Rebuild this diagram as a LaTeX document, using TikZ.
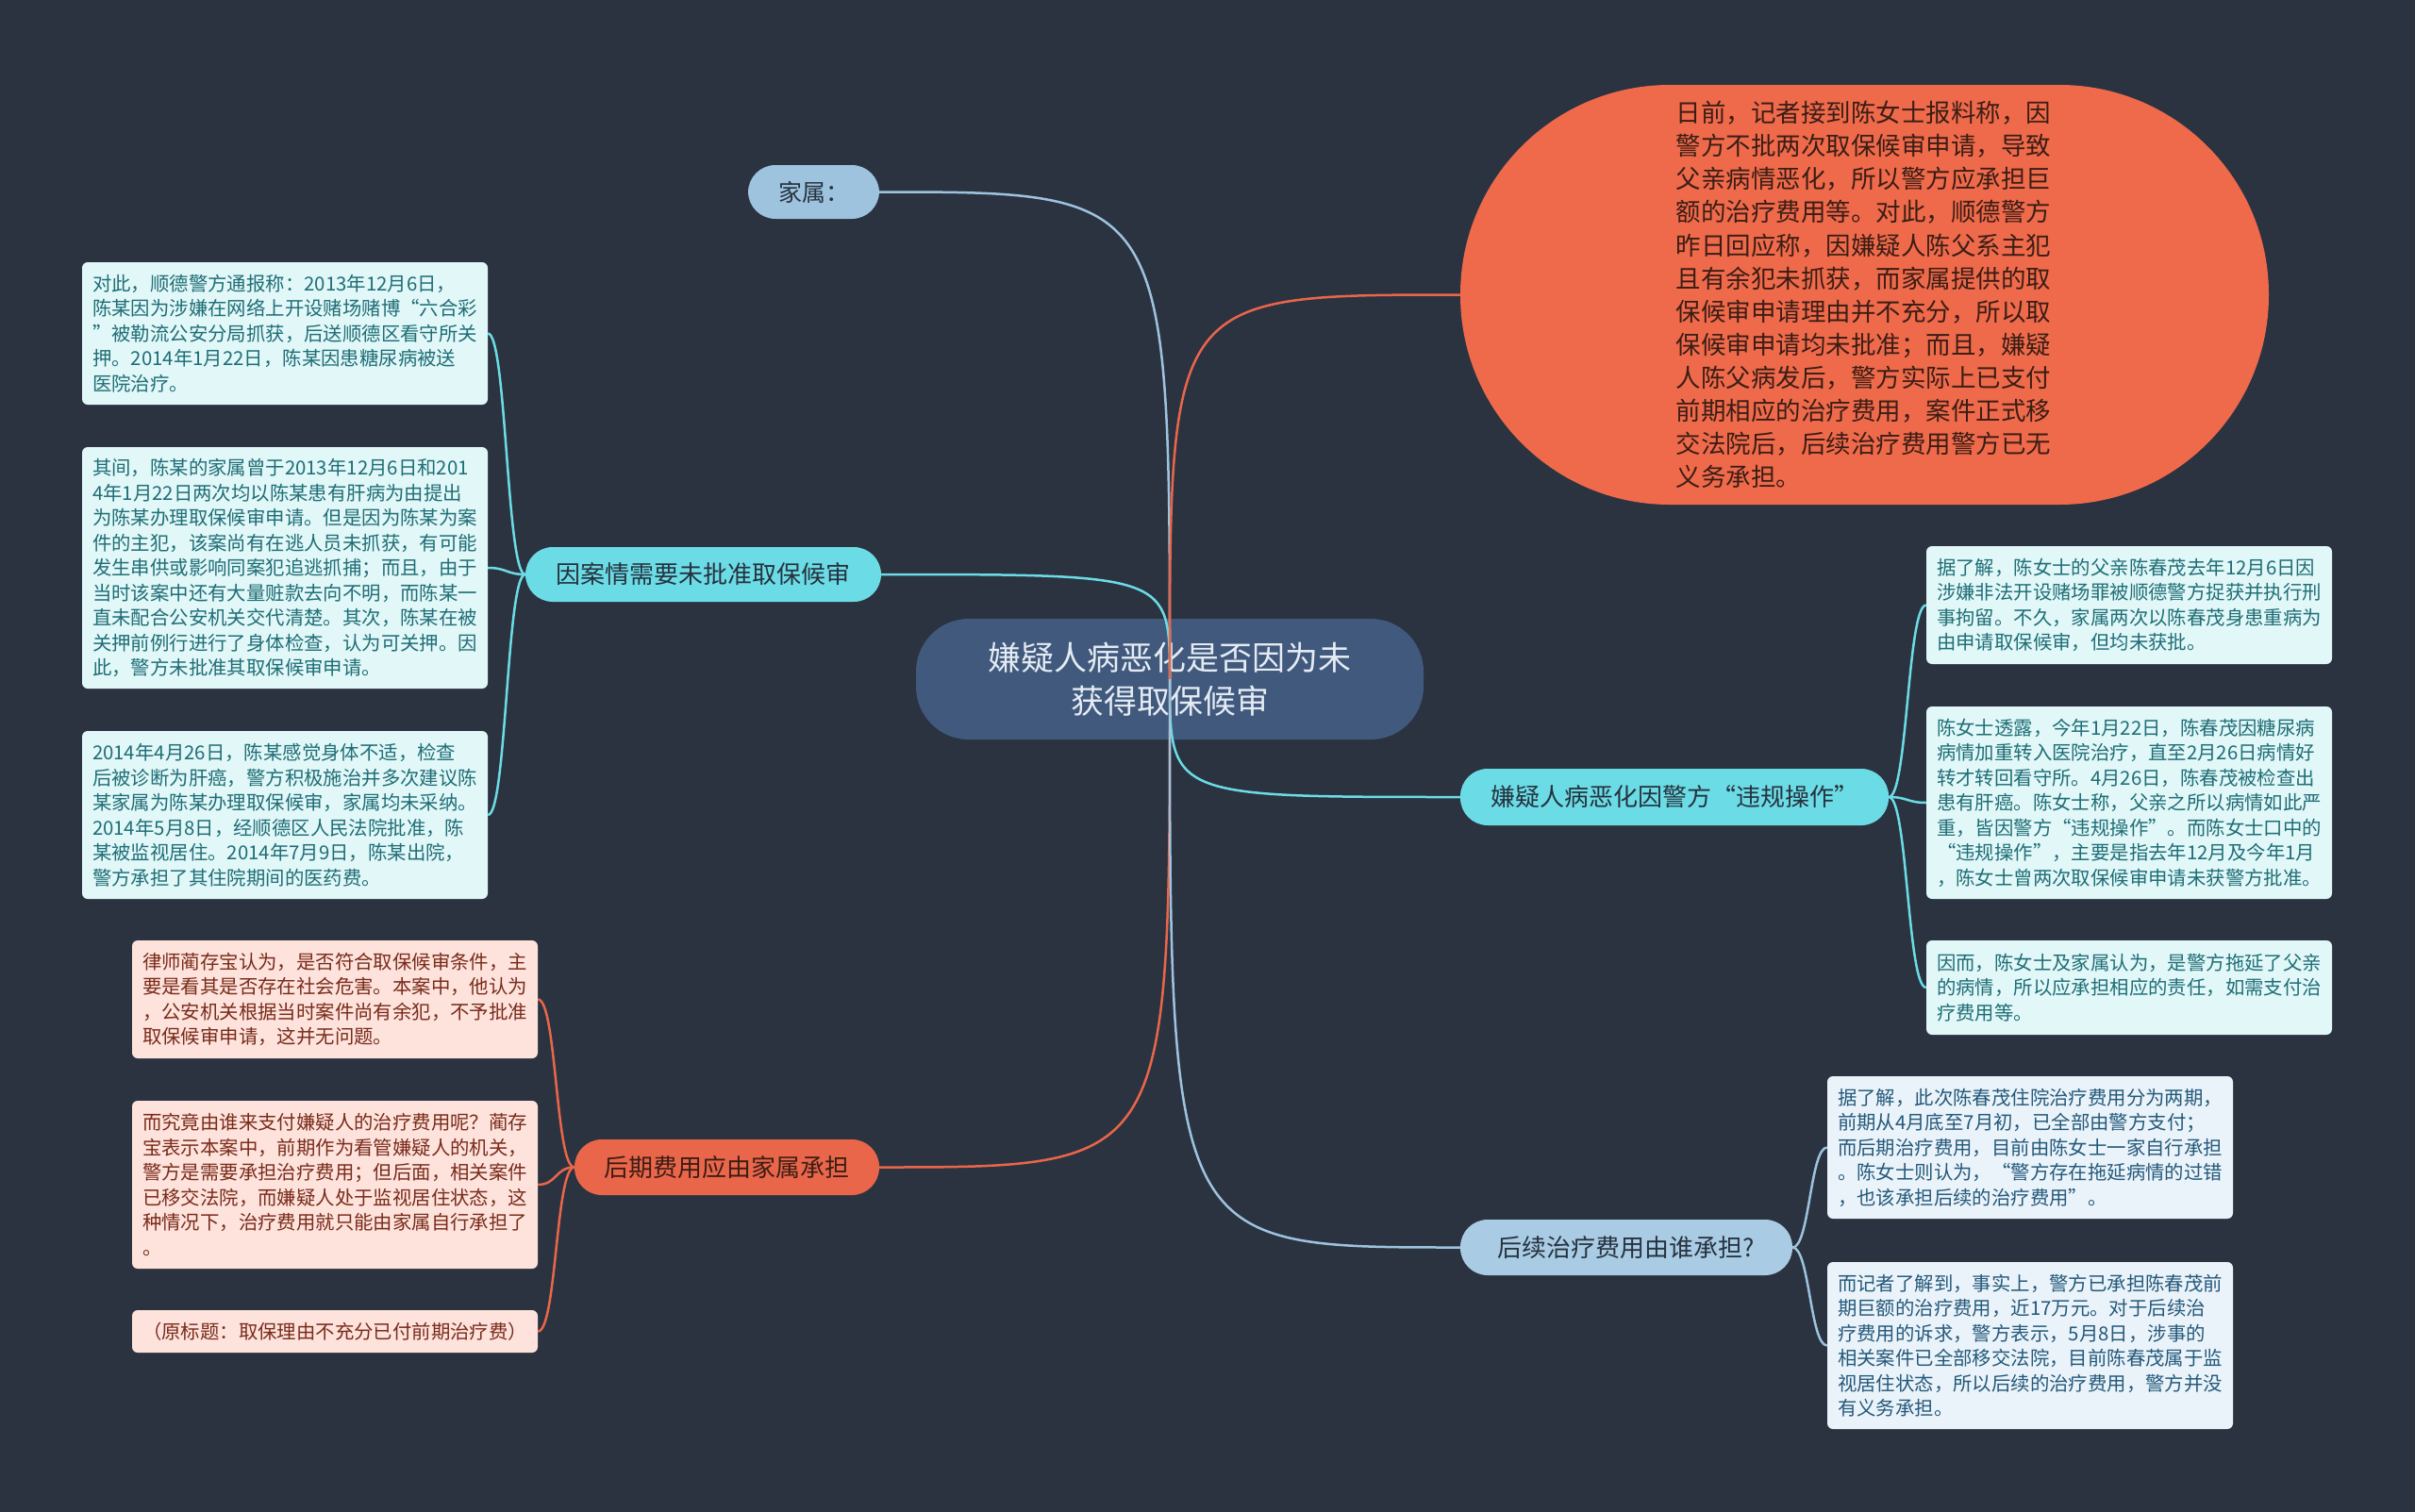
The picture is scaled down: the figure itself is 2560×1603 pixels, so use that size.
\documentclass[tikz,border=0pt]{standalone}
\usepackage{fontspec}
\setmainfont{Noto Sans CJK SC}
\usetikzlibrary{calc}
\definecolor{bgc}{HTML}{2B3340}
\definecolor{cenfill}{HTML}{40597D}
\definecolor{centext}{HTML}{E4EBF3}
\definecolor{jsfill}{HTML}{9EC3DF}
\definecolor{darktext}{HTML}{26323F}
\definecolor{cyanfill}{HTML}{6BDCE5}
\definecolor{orangefill}{HTML}{EE6A4B}
\definecolor{orangenode}{HTML}{E9664A}
\definecolor{orangetext}{HTML}{3B1D15}
\definecolor{lbfill}{HTML}{A9CBE3}
\definecolor{leafcfill}{HTML}{E1F7F8}
\definecolor{leafctext}{HTML}{1F6E76}
\definecolor{leafpfill}{HTML}{FDE3DC}
\definecolor{leafptext}{HTML}{7A2B1B}
\definecolor{leafbfill}{HTML}{EAF3F9}
\definecolor{leafbtext}{HTML}{24597B}
\begin{document}
\begin{tikzpicture}[x=1pt,y=-1pt,
  leaf/.style={rounded corners=6pt, inner xsep=11pt, inner ysep=0pt, text width=408pt, align=left, font=\fontsize{20.4}{26.5}\selectfont},
  cleaf/.style={leaf, fill=leafcfill, text=leafctext},
  pleaf/.style={leaf, fill=leafpfill, text=leafptext},
  bleaf/.style={leaf, fill=leafbfill, text=leafbtext},
  pill/.style={rounded corners=29pt, inner sep=0pt, align=center, font=\fontsize{26}{30}\selectfont},
  conn/.style={line width=2.5pt},
]
\useasboundingbox (0,0) rectangle (2560,1603);
\fill[bgc] (0,0) rectangle (2560,1603);

% central
\node[fill=cenfill, text=centext, rounded corners=56pt, minimum width=538pt, minimum height=128pt, inner sep=0pt, align=center, font=\fontsize{35}{46}\selectfont] (C) at (1240,720) {嫌疑人病恶化是否因为未\\获得取保候审};

% branches
\node[pill, fill=jsfill, text=darktext, minimum width=139pt, minimum height=57pt, font=\fontsize{25}{30}\selectfont] (J) at (862.5,203.5) {家属：};
\node[pill, fill=cyanfill, text=darktext, minimum width=377pt, minimum height=58pt] (A) at (745.5,609) {因案情需要未批准取保候审};
\node[pill, fill=orangenode, text=orangetext, minimum width=323pt, minimum height=59pt] (H) at (770.5,1237.5) {后期费用应由家属承担};
\node[pill, fill=cyanfill, text=darktext, minimum width=454pt, minimum height=60pt] (W) at (1775,845) {嫌疑人病恶化因警方“违规操作”};
\node[pill, fill=lbfill, text=darktext, minimum width=352pt, minimum height=59pt] (X) at (1724,1322.5) {后续治疗费用由谁承担?};
\node[fill=orangefill, text=orangetext, rounded corners=222pt, minimum width=857pt, minimum height=445pt, inner sep=0pt, text width=400pt, align=left, font=\fontsize{26.5}{35.1}\selectfont] (E) at (1976.5,312.5) {日前，记者接到陈女士报料称，因\\警方不批两次取保候审申请，导致\\父亲病情恶化，所以警方应承担巨\\额的治疗费用等。对此，顺德警方\\昨日回应称，因嫌疑人陈父系主犯\\且有余犯未抓获，而家属提供的取\\保候审申请理由并不充分，所以取\\保候审申请均未批准；而且，嫌疑\\人陈父病发后，警方实际上已支付\\前期相应的治疗费用，案件正式移\\交法院后，后续治疗费用警方已无\\义务承担。};

% left leaves
\node[cleaf, minimum height=151pt] (L1) at (302,353.5) {对此，顺德警方通报称：2013年12月6日，\\陈某因为涉嫌在网络上开设赌场赌博“六合彩\\”被勒流公安分局抓获，后送顺德区看守所关\\押。2014年1月22日，陈某因患糖尿病被送\\医院治疗。};
\node[cleaf, minimum height=256pt] (L2) at (302,602) {其间，陈某的家属曾于2013年12月6日和201\\4年1月22日两次均以陈某患有肝病为由提出\\为陈某办理取保候审申请。但是因为陈某为案\\件的主犯，该案尚有在逃人员未抓获，有可能\\发生串供或影响同案犯追逃抓捕；而且，由于\\当时该案中还有大量赃款去向不明，而陈某一\\直未配合公安机关交代清楚。其次，陈某在被\\关押前例行进行了身体检查，认为可关押。因\\此，警方未批准其取保候审申请。};
\node[cleaf, minimum height=178pt] (L3) at (302,864) {2014年4月26日，陈某感觉身体不适，检查\\后被诊断为肝癌，警方积极施治并多次建议陈\\某家属为陈某办理取保候审，家属均未采纳。\\2014年5月8日，经顺德区人民法院批准，陈\\某被监视居住。2014年7月9日，陈某出院，\\警方承担了其住院期间的医药费。};
\node[pleaf, minimum height=125pt] (L4) at (355,1059.5) {律师蔺存宝认为，是否符合取保候审条件，主\\要是看其是否存在社会危害。本案中，他认为\\，公安机关根据当时案件尚有余犯，不予批准\\取保候审申请，这并无问题。};
\node[pleaf, minimum height=178pt] (L5) at (355,1256) {而究竟由谁来支付嫌疑人的治疗费用呢？蔺存\\宝表示本案中，前期作为看管嫌疑人的机关，\\警方是需要承担治疗费用；但后面，相关案件\\已移交法院，而嫌疑人处于监视居住状态，这\\种情况下，治疗费用就只能由家属自行承担了\\。};
\node[pleaf, minimum height=45pt, align=center] (L6) at (355,1411.5) {（原标题：取保理由不充分已付前期治疗费）};

% right leaves
\node[cleaf, minimum height=125pt] (R1) at (2257,641.5) {据了解，陈女士的父亲陈春茂去年12月6日因\\涉嫌非法开设赌场罪被顺德警方捉获并执行刑\\事拘留。不久，家属两次以陈春茂身患重病为\\由申请取保候审，但均未获批。};
\node[cleaf, minimum height=204pt] (R2) at (2257,851) {陈女士透露，今年1月22日，陈春茂因糖尿病\\病情加重转入医院治疗，直至2月26日病情好\\转才转回看守所。4月26日，陈春茂被检查出\\患有肝癌。陈女士称，父亲之所以病情如此严\\重，皆因警方“违规操作”。而陈女士口中的\\“违规操作”，主要是指去年12月及今年1月\\，陈女士曾两次取保候审申请未获警方批准。};
\node[cleaf, minimum height=100pt] (R3) at (2257,1047) {因而，陈女士及家属认为，是警方拖延了父亲\\的病情，所以应承担相应的责任，如需支付治\\疗费用等。};
\node[bleaf, minimum height=151pt] (R4) at (2152,1216.5) {据了解，此次陈春茂住院治疗费用分为两期，\\前期从4月底至7月初，已全部由警方支付；\\而后期治疗费用，目前由陈女士一家自行承担\\。陈女士则认为，“警方存在拖延病情的过错\\，也该承担后续的治疗费用”。};
\node[bleaf, minimum height=177pt] (R5) at (2152,1426.5) {而记者了解到，事实上，警方已承担陈春茂前\\期巨额的治疗费用，近17万元。对于后续治\\疗费用的诉求，警方表示，5月8日，涉事的\\相关案件已全部移交法院，目前陈春茂属于监\\视居住状态，所以后续的治疗费用，警方并没\\有义务承担。};

% connectors from centre
\draw[conn, jsfill] (C.center) .. controls (C.center |- J.east) and (C.center |- J.east) .. (J.east);
\draw[conn, cyanfill] (C.center) .. controls (C.center |- A.east) and (C.center |- A.east) .. (A.east);
\draw[conn, orangenode] (C.center) .. controls (C.center |- H.east) and (C.center |- H.east) .. (H.east);
\draw[conn, orangenode] (C.center) .. controls (C.center |- E.west) and (C.center |- E.west) .. (E.west);
\draw[conn, cyanfill] (C.center) .. controls (C.center |- W.west) and (C.center |- W.west) .. (W.west);
\draw[conn, jsfill] (C.center) .. controls (C.center |- X.west) and (C.center |- X.west) .. (X.west);

% connectors to leaves
\foreach \l in {L1,L2,L3}
  \draw[conn, cyanfill] (A.west) .. controls ($(A.west)+(-20,0)$) and ($(\l.east)+(20,0)$) .. (\l.east);
\foreach \l in {L4,L5,L6}
  \draw[conn, orangenode] (H.west) .. controls ($(H.west)+(-20,0)$) and ($(\l.east)+(20,0)$) .. (\l.east);
\foreach \r in {R1,R2,R3}
  \draw[conn, cyanfill] (W.east) .. controls ($(W.east)+(20,0)$) and ($(\r.west)+(-20,0)$) .. (\r.west);
\foreach \r in {R4,R5}
  \draw[conn, jsfill] (X.east) .. controls ($(X.east)+(18,0)$) and ($(\r.west)+(-18,0)$) .. (\r.west);
\end{tikzpicture}
\end{document}
